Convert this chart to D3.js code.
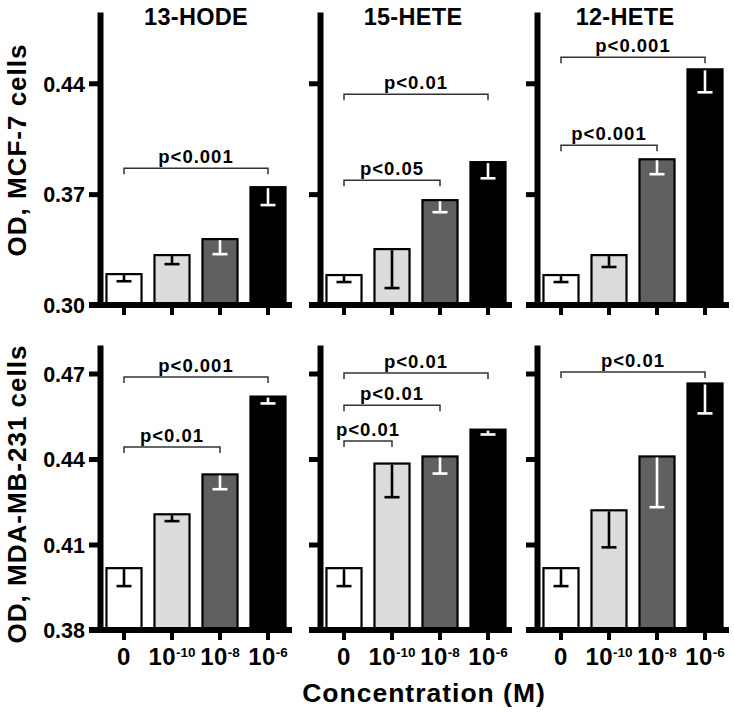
<!DOCTYPE html>
<html><head><meta charset="utf-8">
<script src="https://cdn.jsdelivr.net/npm/d3@7/dist/d3.min.js"></script>
<style>
html,body{margin:0;padding:0;background:#fff;}
svg text{font-family:"Liberation Sans",Arial,Helvetica,sans-serif;font-weight:bold;fill:#000;}
</style></head>
<body><svg id="c" width="734" height="713"></svg>
<script>
// ---- data ----
const compounds = ["13-HODE", "15-HETE", "12-HETE"];
const categories = ["0", "1e-10", "1e-8", "1e-6"];
const xBase = ["0", "10", "10", "10"];
const xExp = ["", "-10", "-8", "-6"];
const rowLabels = ["OD, MCF-7 cells", "OD, MDA-MB-231 cells"];
const yTicksTop = [0.30, 0.37, 0.44];
const yTicksBottom = [0.38, 0.41, 0.44, 0.47];
const yDomainTop = [0.30, 0.485];
const yDomainBottom = [0.38, 0.48];

const mcf7Mean = [
  [0.3195, 0.3315, 0.3416, 0.3744],
  [0.3189, 0.3353, 0.3662, 0.3902],
  [0.3189, 0.3315, 0.3920, 0.4488]
];
const mcf7Err = [
  [0.0045, 0.0057, 0.0095, 0.0113],
  [0.0044, 0.0246, 0.0076, 0.0102],
  [0.0044, 0.0075, 0.0094, 0.0145]
];
const mdaMean = [
  [0.4017, 0.4206, 0.4346, 0.4619],
  [0.4017, 0.4384, 0.4409, 0.4503],
  [0.4017, 0.4220, 0.4409, 0.4665]
];
const mdaErr = [
  [0.0063, 0.0024, 0.0052, 0.0024],
  [0.0063, 0.0118, 0.0060, 0.0017],
  [0.0063, 0.0130, 0.0178, 0.0105]
];
// significance brackets: [fromIndex, toIndex, level(value), label]
const mcf7Sig = [
  [[0, 3, 0.3864, "p<0.001"]],
  [[0, 2, 0.3788, "p<0.05"], [0, 3, 0.4330, "p<0.01"]],
  [[0, 2, 0.4009, "p<0.001"], [0, 3, 0.4564, "p<0.001"]]
];
const mdaSig = [
  [[0, 2, 0.4442, "p<0.01"], [0, 3, 0.4688, "p<0.001"]],
  [[0, 1, 0.4463, "p<0.01"], [0, 2, 0.4589, "p<0.01"], [0, 3, 0.4702, "p<0.01"]],
  [[0, 3, 0.4705, "p<0.01"]]
];

// ---- styles / layout ----
const fills = ["#ffffff", "#dcdcdc", "#606060", "#000000"];
const errColors = ["#000", "#000", "#fff", "#fff"];
const axisX = [100, 320, 537];
const titleX = [196, 413, 625];
const rows = [
  {top: 12, base: 305, domain: yDomainTop, ticks: yTicksTop, mean: mcf7Mean, err: mcf7Err, sig: mcf7Sig, labelY: 150},
  {top: 345, base: 630, domain: yDomainBottom, ticks: yTicksBottom, mean: mdaMean, err: mdaErr, sig: mdaSig, labelY: 494}
];

const svg = d3.select("#c");

rows.forEach((row, ri) => {
  const y = d3.scaleLinear().domain(row.domain).range([row.base, row.top]);
  // row label
  svg.append("text")
    .attr("transform", `translate(26,${row.labelY}) rotate(-90)`)
    .attr("text-anchor", "middle")
    .style("font-size", "26px").style("letter-spacing", "1px")
    .text(rowLabels[ri]);

  compounds.forEach((comp, pi) => {
    const ax = axisX[pi];
    const g = svg.append("g");
    const x = d3.scaleBand().domain(categories).range([ax, ax + 192])
      .paddingInner(0.27).paddingOuter(0.135);
    const bw = x.bandwidth();

    if (ri === 0) {
      svg.append("text").attr("x", titleX[pi]).attr("y", 25)
        .attr("text-anchor", "middle")
        .style("font-size", "23.5px").style("letter-spacing", "0.3px")
        .text(comp);
    }

    // bars
    categories.forEach((c, i) => {
      const m = row.mean[pi][i], e = row.err[pi][i];
      g.append("rect")
        .attr("x", x(c)).attr("y", y(m))
        .attr("width", bw).attr("height", y(row.domain[0]) - y(m))
        .attr("fill", fills[i]).attr("stroke", "#000").attr("stroke-width", 2.2);
      const cx = x(c) + bw / 2;
      g.append("line").attr("x1", cx).attr("x2", cx)
        .attr("y1", y(m) + 1).attr("y2", y(m - e))
        .attr("stroke", errColors[i]).attr("stroke-width", 2.6);
      g.append("line").attr("x1", cx - 7.5).attr("x2", cx + 7.5)
        .attr("y1", y(m - e)).attr("y2", y(m - e))
        .attr("stroke", errColors[i]).attr("stroke-width", 2.6);
    });

    // y axis
    const yAxis = d3.axisLeft(y).tickValues(row.ticks).tickSize(11).tickSizeOuter(0)
      .tickFormat(pi === 0 ? d3.format(".2f") : () => "");
    const ga = svg.append("g").attr("transform", `translate(${ax},0)`).call(yAxis);
    ga.select(".domain").attr("stroke", "#000").attr("stroke-width", 6);
    ga.selectAll(".tick line").attr("stroke", "#000").attr("stroke-width", 5);
    ga.selectAll(".tick text").attr("x", -15).attr("dy", "0.36em")
      .style("font-size", "21.5px").style("font-family", "Liberation Sans, Arial, sans-serif")
      .style("font-weight", "bold").attr("fill", "#000");

    // x axis
    const xAxis = d3.axisBottom(x).tickSize(10).tickSizeOuter(0).tickFormat(() => "");
    const gx = svg.append("g").attr("transform", `translate(0,${row.base})`).call(xAxis);
    gx.select(".domain").remove();
    gx.selectAll(".tick line").attr("stroke", "#000").attr("stroke-width", 4);
    svg.append("line").attr("x1", ax - 11).attr("x2", ax + 192)
      .attr("y1", row.base).attr("y2", row.base)
      .attr("stroke", "#000").attr("stroke-width", 6);

    if (ri === 1) {
      categories.forEach((c, i) => {
        const t = svg.append("text").attr("x", x(c) + bw / 2).attr("y", 665)
          .attr("text-anchor", "middle").style("font-size", "24px").style("letter-spacing", "0.5px");
        t.append("tspan").text(xBase[i]);
        if (xExp[i]) t.append("tspan").attr("dy", -8).style("font-size", "13.5px").style("letter-spacing", "0px").text(xExp[i]);
      });
    }

    // significance brackets
    row.sig[pi].forEach(s => {
      const x1 = x(categories[s[0]]) + bw / 2, x2 = x(categories[s[1]]) + bw / 2;
      const by = y(s[2]);
      g.append("path")
        .attr("d", `M${x1},${by + 6}V${by}H${x2}V${by + 6}`)
        .attr("fill", "none").attr("stroke", "#333").attr("stroke-width", 1.5);
      g.append("text").attr("x", (x1 + x2) / 2).attr("y", by - 5)
        .attr("text-anchor", "middle").style("font-size", "18.5px").style("letter-spacing", "1px")
        .text(s[3]);
    });
  });
});

svg.append("text").attr("x", 424).attr("y", 702).attr("text-anchor", "middle")
  .style("font-size", "26.5px").style("letter-spacing", "1px").text("Concentration (M)");
</script></body></html>
